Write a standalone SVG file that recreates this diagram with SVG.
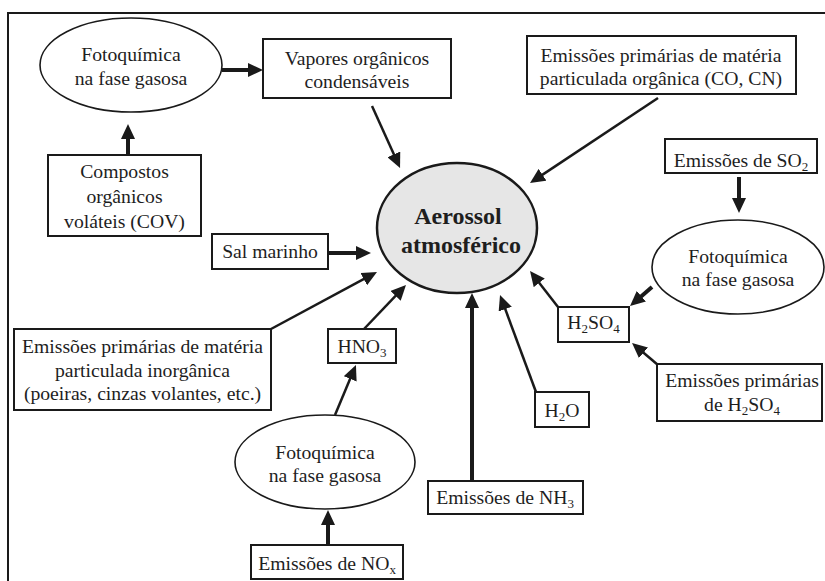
<svg xmlns="http://www.w3.org/2000/svg" width="825" height="581" viewBox="0 0 825 581" font-family="'Liberation Serif', 'Times New Roman', Tinos, 'DejaVu Serif', serif">
<defs>
<style>
.box{fill:#fff;stroke:#1a1a1a;stroke-width:2}
.ell{fill:#fff;stroke:#1a1a1a;stroke-width:1.6}
.core{fill:#e6e6e6;stroke:#1a1a1a;stroke-width:2.5}
text{font-family:'Liberation Serif', 'Times New Roman', Tinos, 'DejaVu Serif', serif;font-size:19.7px;fill:#1e1e1e;text-anchor:middle}
.bold{font-weight:bold;font-size:24px}
.sub{font-size:13px}
.thin{stroke:#1a1a1a;stroke-width:2.5;fill:none;marker-end:url(#ah)}
.thick{stroke:#1a1a1a;stroke-width:4;fill:none;marker-end:url(#ah)}
</style>
<marker id="ah" viewBox="0 0 15 14" refX="3" refY="7" markerWidth="15" markerHeight="14" markerUnits="userSpaceOnUse" orient="auto">
<path d="M0,0 L15,7 L0,14 z" fill="#1a1a1a"/>
</marker>
</defs>
<rect width="825" height="581" fill="#fff"/>
<path d="M8,581 L8,13 L825,13" fill="none" stroke="#1a1a1a" stroke-width="2"/>

<g id="connectors">
<line class="thick" x1="222" y1="70" x2="251" y2="70"/>
<line class="thick" x1="128" y1="155" x2="128" y2="136"/>
<line class="thin" x1="372" y1="106" x2="395.1" y2="157.1"/>
<line class="thin" x1="658" y1="98" x2="540" y2="176.4"/>
<line class="thick" x1="739" y1="177" x2="739" y2="201"/>
<line class="thick" x1="328" y1="253" x2="359" y2="253"/>
<line class="thin" x1="271" y1="329" x2="366.4" y2="277.7"/>
<line class="thin" x1="364" y1="329" x2="397.7" y2="293.7"/>
<line class="thin" x1="335" y1="415" x2="351.3" y2="376.1"/>
<line class="thick" x1="328" y1="546" x2="328" y2="522"/>
<line class="thick" x1="472" y1="481" x2="472" y2="305"/>
<line class="thin" x1="536" y1="392" x2="504.2" y2="306.3"/>
<line class="thin" x1="558" y1="307" x2="537.4" y2="280.5"/>
<line class="thick" x1="652" y1="287" x2="639.1" y2="298.2"/>
<line class="thin" x1="658" y1="365" x2="641.2" y2="350.8"/>
</g>

<g id="foto1">
<ellipse class="ell" cx="131" cy="65" rx="91" ry="47"/>
<text x="131" y="61">Fotoquímica</text>
<text x="131" y="85">na fase gasosa</text>
</g>
<g id="vapores">
<rect class="box" x="263" y="39" width="188" height="59"/>
<text x="357" y="65">Vapores orgânicos</text>
<text x="357" y="88">condensáveis</text>
</g>
<g id="cov">
<rect class="box" x="48" y="155" width="153" height="81"/>
<text x="124.5" y="178">Compostos</text>
<text x="124.5" y="203">orgânicos</text>
<text x="124.5" y="228">voláteis (COV)</text>
</g>
<g id="organica">
<rect class="box" x="527" y="36" width="269" height="58"/>
<text x="661" y="62">Emissões primárias de matéria</text>
<text x="661" y="85">particulada orgânica (CO, CN)</text>
</g>
<g id="so2">
<rect class="box" x="665" y="139" width="152" height="34"/>
<text x="741" y="167">Emissões de SO<tspan class="sub" dy="4">2</tspan></text>
</g>
<g id="foto2">
<ellipse class="ell" cx="738" cy="267" rx="86" ry="47"/>
<text x="738" y="263">Fotoquímica</text>
<text x="738" y="286">na fase gasosa</text>
</g>
<g id="aerossol">
<ellipse class="core" cx="457" cy="228" rx="80" ry="65"/>
<text class="bold" x="458" y="224">Aerossol</text>
<text class="bold" x="461" y="253">atmosférico</text>
</g>
<g id="h2so4">
<rect class="box" x="558" y="307" width="71" height="35"/>
<text x="593.5" y="329">H<tspan class="sub" dy="4">2</tspan><tspan dy="-4">SO</tspan><tspan class="sub" dy="4">4</tspan></text>
</g>
<g id="emis-h2so4">
<rect class="box" x="657" y="364" width="165" height="57"/>
<text x="742" y="387">Emissões primárias</text>
<text x="742" y="411">de H<tspan class="sub" dy="4">2</tspan><tspan dy="-4">SO</tspan><tspan class="sub" dy="4">4</tspan></text>
</g>
<g id="h2o">
<rect class="box" x="535" y="392" width="54" height="35"/>
<text x="562" y="417">H<tspan class="sub" dy="4">2</tspan><tspan dy="-4">O</tspan></text>
</g>
<g id="nh3">
<rect class="box" x="428" y="481" width="155" height="33"/>
<text x="505" y="504">Emissões de NH<tspan class="sub" dy="4">3</tspan></text>
</g>
<g id="sal">
<rect class="box" x="212" y="234" width="116" height="35"/>
<text x="270" y="258">Sal marinho</text>
</g>
<g id="inorganica">
<rect class="box" x="14" y="329" width="257" height="81"/>
<text x="142.5" y="353">Emissões primárias de matéria</text>
<text x="142.5" y="377">particulada inorgânica</text>
<text x="142.5" y="400">(poeiras, cinzas volantes, etc.)</text>
</g>
<g id="hno3">
<rect class="box" x="328" y="329" width="68" height="34"/>
<text x="362" y="353">HNO<tspan class="sub" dy="4">3</tspan></text>
</g>
<g id="foto3">
<ellipse class="ell" cx="325" cy="462" rx="90" ry="47"/>
<text x="325" y="459">Fotoquímica</text>
<text x="325" y="482">na fase gasosa</text>
</g>
<g id="nox">
<rect class="box" x="251" y="545" width="152" height="34"/>
<text x="327" y="570">Emissões de NO<tspan class="sub" dy="4">x</tspan></text>
</g>
</svg>
